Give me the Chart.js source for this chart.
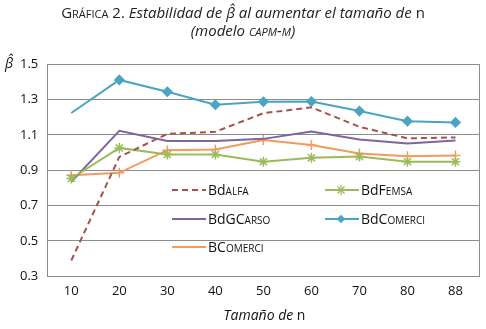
<!DOCTYPE html>
<html>
<head>
<meta charset="utf-8">
<script src="https://cdn.jsdelivr.net/npm/chart.js@4"></script>
<style>
  body { margin: 0; background: #fff; font-family: "Open Sans", sans-serif; color: #111; }
  #caja { position: relative; width: 486px; height: 329px; }
  #grafico { position: absolute; left: 0; top: 0; }
  .titulo { position: absolute; left: 0; width: 486px; text-align: center; font-size: 15px; color: #222; }
  .sc { font-variant: small-caps; }
  .leyenda { position: absolute; font-size: 14px; color: #111; display: flex; align-items: center; white-space: nowrap; }
  .leyenda svg { margin-right: 2px; }
</style>
</head>
<body>
<div id="caja">
  <canvas id="grafico" width="486" height="329"></canvas>
  <div class="titulo" style="top:2px">G<span class="sc">ráfica</span> 2. <i>Estabilidad de β̂ al aumentar el tamaño de</i> n</div>
  <div class="titulo" style="top:20px"><i>(modelo <span class="sc">capm-m</span>)</i></div>
  <div style="position:absolute;left:5px;top:53px;font-size:14px;font-style:italic">β̂</div>
  <div style="position:absolute;left:48px;width:433px;top:305px;text-align:center;font-size:14px"><i>Tamaño de</i> n</div>
  <div id="leyendas"></div>
</div>
<script>
// Tamaño de la muestra (eje X)
const tamanos = ['10', '20', '30', '40', '50', '60', '70', '80', '88'];

// Betas estimadas por serie
const bdAlfa     = [0.39, 0.975, 1.105, 1.117, 1.222, 1.255, 1.145, 1.08, 1.085];
const bdFemsa    = [0.853, 1.026, 0.989, 0.989, 0.948, 0.97, 0.977, 0.948, 0.948];
const bdGCarso   = [0.834, 1.123, 1.065, 1.065, 1.077, 1.119, 1.074, 1.051, 1.068];
const bdComerci  = [1.223, 1.41, 1.343, 1.27, 1.287, 1.288, 1.234, 1.177, 1.17];
const bComerci   = [0.872, 0.885, 1.013, 1.017, 1.07, 1.042, 0.995, 0.979, 0.983];

const series = [
  { label: 'BdAlfa', html: 'Bd<span class="sc">alfa</span>', data: bdAlfa, color: '#a8504c', dash: [6, 4], marker: false, x: 172, y: 190 },
  { label: 'BdFemsa', html: 'BdF<span class="sc">emsa</span>', data: bdFemsa, color: '#9bbb59', marker: 'star', x: 325, y: 190 },
  { label: 'BdGCarso', html: 'BdGC<span class="sc">arso</span>', data: bdGCarso, color: '#7f64a2', marker: false, x: 172, y: 219 },
  { label: 'BdComerci', html: 'BdC<span class="sc">omerci</span>', data: bdComerci, color: '#4aa4c4', marker: 'rectRot', x: 325, y: 219 },
  { label: 'BComerci', html: 'BC<span class="sc">omerci</span>', data: bComerci, color: '#f39a5c', marker: 'cross', x: 172, y: 247 }
];

const ctx = document.getElementById('grafico').getContext('2d');
new Chart(ctx, {
  type: 'line',
  data: {
    labels: tamanos,
    datasets: series.map(s => ({
      label: s.label,
      data: s.data,
      borderColor: s.color,
      backgroundColor: s.color,
      borderWidth: 2,
      borderDash: s.dash || [],
      tension: 0,
      pointStyle: s.marker || 'circle',
      pointRadius: s.marker === 'rectRot' ? s.data.map((v, i) => i === 0 ? 0 : 4.5)
                 : s.marker ? 5 : 0,
      pointBorderWidth: 1.5
    }))
  },
  options: {
    responsive: false,
    animation: false,
    layout: { padding: { left: 11, right: 5, top: 64, bottom: 23 } },
    plugins: { legend: { display: false }, tooltip: { enabled: false } },
    scales: {
      x: {
        offset: true,
        grid: { display: false, drawTicks: false },
        border: { display: false },
        ticks: { color: '#111', padding: 7, font: { family: 'Open Sans', size: 13 } }
      },
      y: {
        min: 0.3, max: 1.5,
        grid: { color: '#8c8c8c', drawTicks: false },
        border: { color: '#8c8c8c' },
        ticks: { stepSize: 0.2, padding: 9, color: '#111', font: { family: 'Open Sans', size: 13 },
                 callback: v => v.toFixed(1) }
      },
      y2: {
        position: 'right',
        min: 0.3, max: 1.5,
        grid: { drawOnChartArea: false, drawTicks: false },
        border: { color: '#8c8c8c' },
        ticks: { display: false }
      }
    }
  }
});

// Leyenda en HTML (versalitas como en el original)
function muestra(s) {
  let m = '';
  if (s.marker === 'star') m = `<g stroke="${s.color}" stroke-width="1.3"><line x1="16" y1="1" x2="16" y2="11"/><line x1="11" y1="6" x2="21" y2="6"/><line x1="12.5" y1="2.5" x2="19.5" y2="9.5"/><line x1="12.5" y1="9.5" x2="19.5" y2="2.5"/></g>`;
  if (s.marker === 'rectRot') m = `<rect x="13" y="3" width="6" height="6" fill="${s.color}" transform="rotate(45 16 6)"/>`;
  const dash = s.dash ? `stroke-dasharray="${s.dash.join(',')}"` : '';
  return `<svg width="34" height="12"><line x1="0" y1="6" x2="34" y2="6" stroke="${s.color}" stroke-width="2" ${dash}/>${m}</svg>`;
}
document.getElementById('leyendas').innerHTML = series.map(s =>
  `<div class="leyenda" style="left:${s.x}px;top:${s.y - 10}px">${muestra(s)}${s.html}</div>`).join('');
</script>
</body>
</html>
